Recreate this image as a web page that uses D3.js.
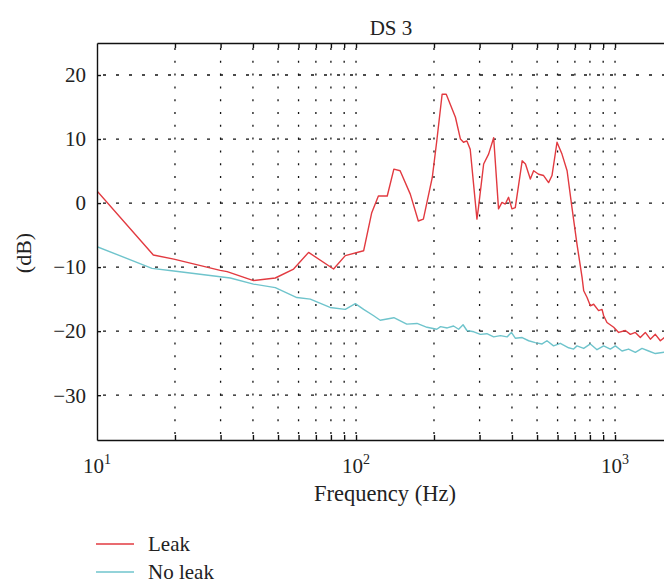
<!DOCTYPE html>
<html>
<head>
<meta charset="utf-8">
<script src="https://cdn.jsdelivr.net/npm/d3@7"></script>
<style>
  body { margin: 0; background: #fff; }
  svg { display: block; font-family: "Liberation Serif", "Times New Roman", serif; }
  .grid line { stroke: #111; stroke-width: 1.3; }
</style>
</head>
<body>
<div id="container"></div>
<script>
/* CONSTANTS AND GLOBALS */
const width = 664
const height = 583
const margin = { top: 43, bottom: 143, left: 97, right: -29 }

// leak curve (Hz, dB)
const leakFreq = [10, 16.5, 19.8, 29.9, 31.8, 40.2, 48.8, 57.4, 65.6, 81.9, 90.9, 107,
  115, 122, 132, 140, 148, 162, 174, 182, 197, 205, 215, 223, 242, 253, 260, 268, 276,
  293, 297, 311, 325, 340, 355, 366, 377, 388, 400, 412, 438, 451, 471, 485, 507, 530,
  554, 571, 597, 624, 653, 682, 713, 746, 757, 780, 803, 827, 864, 891, 904, 931, 988,
  1033, 1096, 1146, 1198, 1252, 1309, 1369, 1431, 1496, 1550, 1600]
const leakDb = [1.9, -8.1, -8.75, -10.5, -10.7, -12.1, -11.7, -10.3, -7.7, -10.3, -8.2, -7.45,
  -1.5, 1.1, 1.1, 5.3, 5.05, 1.4, -2.8, -2.5, 4.0, 9.7, 17.0, 17.0, 13.4, 10.0, 9.5, 9.7, 8.4,
  -2.5, -0.7, 6.1, 7.65, 10.2, -0.9, 0.1, -0.15, 0.9, -0.9, -0.7, 6.6, 6.1, 3.75, 5.05, 4.5, 4.3,
  3.2, 4.3, 9.5, 7.65, 5.05, -0.7, -6.4, -11.6, -13.7, -14.75, -16.05, -15.8, -16.8, -16.6, -17.6, -18.65, -19.4,
  -20.2, -19.9, -20.5, -20.2, -21.0, -20.2, -21.25, -20.5, -21.5, -21.0, -21.4]

// no leak curve (Hz, dB)
const noLeakFreq = [10, 16.3, 19.8, 29.9, 32.7, 40.2, 48.8, 59.1, 66.6, 79.4, 90.9, 99.4,
  107, 117, 124, 140, 157, 172, 188, 205, 212, 225, 238, 249, 259, 268, 285, 302, 320,
  340, 361, 383, 398, 412, 438, 464, 492, 523, 546, 579, 615, 662, 692, 713, 757, 803,
  852, 904, 959, 1003, 1064, 1128, 1198, 1271, 1348, 1431, 1550, 1600]
const noLeakDb = [-6.8, -10.2, -10.6, -11.5, -11.7, -12.65, -13.2, -14.75, -15.0, -16.3, -16.6, -15.7,
  -16.6, -17.6, -18.3, -17.9, -18.9, -18.8, -19.4, -19.7, -19.3, -19.5, -19.2, -19.7, -19.0, -19.9, -20.1, -20.5, -20.4,
  -20.9, -20.7, -20.9, -20.2, -21.1, -21.0, -21.5, -21.8, -22.0, -21.5, -22.3, -21.9, -22.6, -22.8, -22.3, -22.7, -22.0,
  -22.9, -22.3, -22.8, -22.3, -23.1, -22.8, -23.3, -22.7, -23.1, -23.5, -23.3, -23.6]

const gridFreqs = [20, 30, 40, 50, 60, 70, 80, 90, 100, 200, 300, 400, 500, 600, 700, 800, 900, 1000, 2000]
const majorFreqs = [10, 100, 1000]
const majorExp = ["1", "2", "3"]
const dbTicks = [20, 10, 0, -10, -20, -30]

const seriesNames = ["Leak", "No leak"]
const seriesColors = ["#e23a40", "#6fc4cc"]

const leak = leakFreq.map((f, i) => ({ f, v: leakDb[i] }))
const noLeak = noLeakFreq.map((f, i) => ({ f, v: noLeakDb[i] }))

// SCALES
const xScale = d3.scaleLog()
  .domain([10, 2000])
  .range([margin.left, width - margin.right])

const yScale = d3.scaleLinear()
  .domain([-37, 25])
  .range([height - margin.bottom, margin.top])

// CREATE SVG ELEMENT
const svg = d3.select("#container")
  .append("svg")
  .attr("width", width)
  .attr("height", height)

svg.append("defs").append("clipPath")
  .attr("id", "plot")
  .append("rect")
  .attr("x", margin.left)
  .attr("y", margin.top)
  .attr("width", xScale.range()[1] - margin.left)
  .attr("height", yScale.range()[0] - margin.top)

// GRID
const grid = svg.append("g").attr("class", "grid")

grid.selectAll(".vgrid")
  .data(gridFreqs)
  .join("line")
  .attr("x1", d => xScale(d))
  .attr("x2", d => xScale(d))
  .attr("y1", yScale.range()[0])
  .attr("y2", margin.top)
  .attr("stroke-dasharray", "2,10.8")
  .attr("stroke-dashoffset", -6)

grid.selectAll(".hgrid")
  .data(dbTicks)
  .join("line")
  .attr("x1", margin.left)
  .attr("x2", xScale.range()[1])
  .attr("y1", d => yScale(d))
  .attr("y2", d => yScale(d))
  .attr("stroke-dasharray", "3,10")
  .attr("stroke-dashoffset", -6)

// LINES
const line = d3.line()
  .x(d => xScale(d.f))
  .y(d => yScale(d.v))

svg.append("g")
  .attr("clip-path", "url(#plot)")
  .selectAll(".line")
  .data([noLeak, leak])
  .join("path")
  .attr("class", "line")
  .attr("fill", "none")
  .attr("stroke", (d, i) => seriesColors[1 - i])
  .attr("stroke-width", 1.4)
  .attr("stroke-linejoin", "round")
  .attr("d", d => line(d))

// AXES (ticks point inward, labels drawn by hand)
const xAxisBottom = d3.axisBottom(xScale)
  .tickValues(gridFreqs)
  .tickSize(-5)
  .tickSizeOuter(0)
  .tickFormat("")

svg.append("g")
  .attr("transform", `translate(0, ${yScale.range()[0]})`)
  .call(xAxisBottom)

const xAxisTop = d3.axisTop(xScale)
  .tickValues(gridFreqs)
  .tickSize(-5)
  .tickSizeOuter(0)
  .tickFormat("")

svg.append("g")
  .attr("transform", `translate(0, ${margin.top})`)
  .call(xAxisTop)

const yAxis = d3.axisLeft(yScale)
  .tickValues(dbTicks)
  .tickSize(-4)
  .tickSizeOuter(0)
  .tickFormat("")

svg.append("g")
  .attr("transform", `translate(${margin.left}, 0)`)
  .call(yAxis)

svg.selectAll(".domain, .tick line")
  .attr("stroke", "#111")
  .attr("stroke-width", 1.4)

// Y TICK LABELS
svg.selectAll(".ylab")
  .data(dbTicks)
  .join("text")
  .attr("class", "ylab")
  .attr("x", margin.left - 11)
  .attr("y", d => yScale(d))
  .attr("dy", "0.35em")
  .attr("text-anchor", "end")
  .attr("font-size", 21)
  .attr("fill", "#222")
  .text(d => d < 0 ? "\u2212" + Math.abs(d) : d)

// X TICK LABELS 10^n
const xl = svg.selectAll(".xlab")
  .data(majorFreqs)
  .join("text")
  .attr("class", "xlab")
  .attr("x", d => xScale(d))
  .attr("y", 473)
  .attr("text-anchor", "middle")
  .attr("font-size", 21)
  .attr("fill", "#222")
xl.append("tspan").text("10")
xl.append("tspan")
  .attr("font-size", 14)
  .attr("dy", -9)
  .text((d, i) => majorExp[i])

// TITLES
svg.append("text")
  .attr("x", 391)
  .attr("y", 35)
  .attr("text-anchor", "middle")
  .attr("font-size", 21)
  .attr("fill", "#222")
  .text("DS 3")

svg.append("text")
  .attr("x", 385)
  .attr("y", 501)
  .attr("text-anchor", "middle")
  .attr("font-size", 22.5)
  .attr("fill", "#222")
  .text("Frequency (Hz)")

svg.append("text")
  .attr("transform", `translate(31, 253) rotate(-90)`)
  .attr("text-anchor", "middle")
  .attr("font-size", 22)
  .attr("fill", "#222")
  .text("(dB)")

// LEGEND
const legend = svg.selectAll(".legend")
  .data(seriesNames)
  .join("g")
  .attr("class", "legend")
  .attr("transform", (d, i) => `translate(96, ${544 + i * 28})`)

legend.append("line")
  .attr("x1", 0)
  .attr("x2", 38)
  .attr("stroke", (d, i) => seriesColors[i])
  .attr("stroke-width", 1.4)

legend.append("text")
  .attr("x", 52)
  .attr("dy", "0.35em")
  .attr("font-size", 21)
  .attr("fill", "#222")
  .text(d => d)
</script>
</body>
</html>
